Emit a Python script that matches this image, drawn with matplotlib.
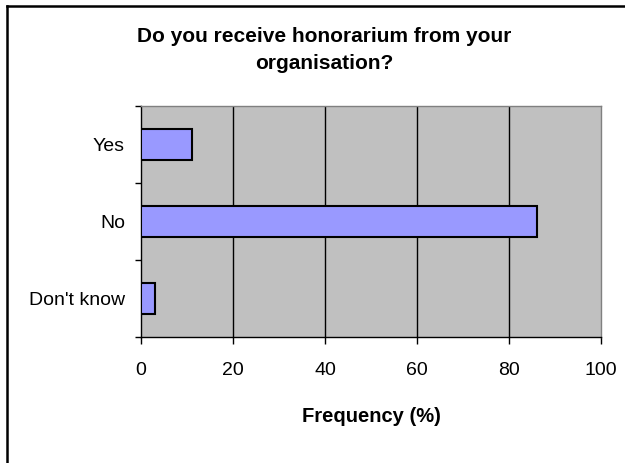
import matplotlib
matplotlib.use("Agg")
import matplotlib.pyplot as plt
from matplotlib.lines import Line2D

# data
categories = ["Yes", "No", "Don't know"]
frequency = [11, 86, 3]
xticks = [0, 20, 40, 60, 80, 100]

plt.rcParams["font.family"] = ["Liberation Sans", "DejaVu Sans"]

fig = plt.figure(figsize=(6.25, 4.63), dpi=100)
W, H = 625, 463
ax = fig.add_axes([141 / W, 1 - 337 / H, 460 / W, 231 / H])
ax.set_facecolor("#c0c0c0")

ypos = list(range(len(categories)))[::-1]
ax.barh(ypos, frequency, height=0.4, color="#9999ff", edgecolor="black", lw=1.5, zorder=3)

ax.set_xlim(0, 100)
ax.set_ylim(-0.5, 2.5)
ax.set_xticks(xticks)
ax.set_xticklabels([str(t) for t in xticks], fontsize=14)
for t in xticks[1:-1]:
    ax.axvline(t, color="black", lw=1, zorder=1)

ax.set_yticks(ypos)
ax.set_yticklabels(categories, fontsize=14)
ax.set_yticks([-0.5, 0.5, 1.5, 2.5], minor=True)
ax.tick_params(axis="y", which="major", length=0, pad=11.5)
ax.tick_params(axis="y", which="minor", length=4, width=1, direction="out", color="black")
ax.tick_params(axis="x", length=5, width=1, direction="out", pad=13)

for s in ["left", "bottom"]:
    ax.spines[s].set_color("black")
    ax.spines[s].set_linewidth(1)
for s in ["top", "right"]:
    ax.spines[s].set_color("#808080")
    ax.spines[s].set_linewidth(1)

ax.set_xlabel("Frequency (%)", fontsize=14.5, fontweight="bold", labelpad=20)

fig.text(324 / W, 1 - 50 / H, "Do you receive honorarium from your\norganisation?",
         ha="center", va="center", fontsize=15, fontweight="bold", linespacing=1.5)

# chart border (left and top edges visible)
fig.add_artist(Line2D([7 / W, 7 / W], [0, 1 - 6 / H], color="black", lw=1.8))
fig.add_artist(Line2D([7 / W, 1], [1 - 6 / H, 1 - 6 / H], color="black", lw=1.8))

fig.savefig("out.png", dpi=100)
